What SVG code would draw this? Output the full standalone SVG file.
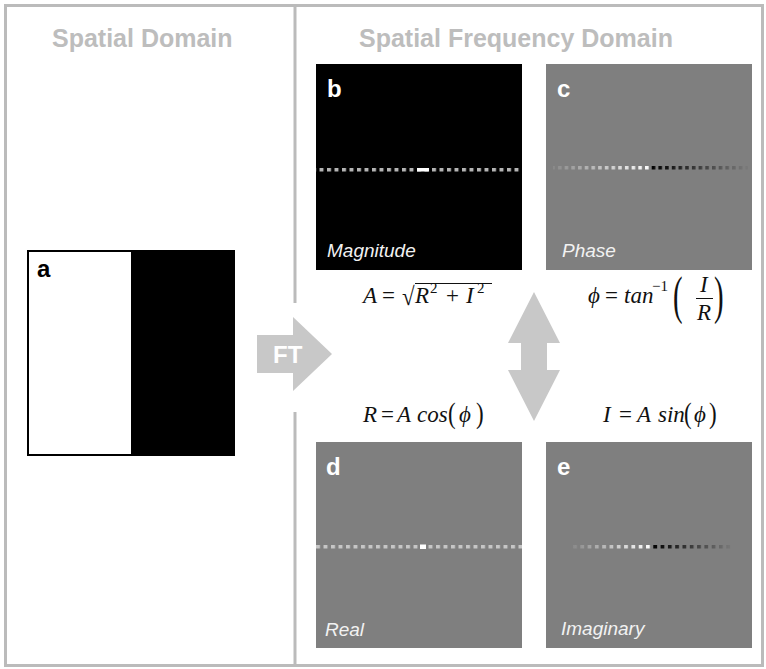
<svg xmlns="http://www.w3.org/2000/svg" width="766" height="669" viewBox="0 0 766 669">
  <style>
    .frame { fill: none; stroke: #bbbbbb; stroke-width: 3; }
    .head { font-family: "Liberation Sans", Arial, sans-serif; font-weight: bold; font-size: 25px; fill: #bdbdbd; }
    .tag { font-family: "Liberation Sans", Arial, sans-serif; font-weight: bold; font-size: 24px; fill: #ffffff; }
    .cap { font-family: "Liberation Sans", Arial, sans-serif; font-style: italic; font-size: 19px; fill: #f2f2f2; }
    .gray { fill: #7f7f7f; }
    .math { font-family: "Liberation Serif", "DejaVu Serif", serif; font-size: 23px; fill: #111111; }
    .it { font-style: italic; }
    .sup { font-size: 15px; }
    .bigarrow { fill: #c8c8c8; }
  </style>
  <defs>
    <!-- dot rows of the spectra -->
    <pattern id="patB" patternUnits="userSpaceOnUse" x="432" y="168" width="7.5" height="4">
      <rect width="4" height="3.5" fill="#b4b4b4"/>
    </pattern>
    <pattern id="patD" patternUnits="userSpaceOnUse" x="421" y="545" width="7.5" height="4">
      <rect width="4" height="3.5" fill="#c6c6c6"/>
    </pattern>
    <pattern id="patC" patternUnits="userSpaceOnUse" x="645" y="166" width="6.7" height="4">
      <rect width="3.6" height="3.5" fill="#ffffff"/>
    </pattern>
    <pattern id="patE" patternUnits="userSpaceOnUse" x="646" y="545" width="7.3" height="4">
      <rect width="3.8" height="3.5" fill="#ffffff"/>
    </pattern>
    <mask id="maskC"><rect x="553" y="166" width="195" height="4" fill="url(#patC)"/></mask>
    <mask id="maskE"><rect x="573" y="545" width="159" height="4" fill="url(#patE)"/></mask>
    <linearGradient id="gradC" gradientUnits="userSpaceOnUse" x1="553" y1="0" x2="748" y2="0">
      <stop offset="0" stop-color="#8a8a8a"/>
      <stop offset="0.5" stop-color="#ffffff"/>
      <stop offset="0.5" stop-color="#000000"/>
      <stop offset="1" stop-color="#7a7a7a"/>
    </linearGradient>
    <linearGradient id="gradE" gradientUnits="userSpaceOnUse" x1="573" y1="0" x2="732" y2="0">
      <stop offset="0" stop-color="#8a8a8a"/>
      <stop offset="0.494" stop-color="#ffffff"/>
      <stop offset="0.494" stop-color="#000000"/>
      <stop offset="1" stop-color="#7a7a7a"/>
    </linearGradient>
  </defs>

  <rect width="766" height="669" fill="#ffffff"/>

  <!-- outer frame and domain divider -->
  <g id="frame">
    <rect class="frame" x="5.5" y="5.5" width="757" height="660"/>
    <line class="frame" x1="295" y1="5" x2="295" y2="303"/>
    <line class="frame" x1="295" y1="412" x2="295" y2="666"/>
  </g>

  <g id="headings">
    <text class="head" x="52" y="47">Spatial Domain</text>
    <text class="head" x="359" y="47">Spatial Frequency Domain</text>
  </g>

  <!-- a: spatial image, half white / half black -->
  <g id="panel-a">
    <rect x="28" y="251" width="206" height="204" fill="#ffffff"/>
    <rect x="131" y="251" width="103" height="204" fill="#000000"/>
    <rect x="28" y="251" width="206" height="204" fill="none" stroke="#000000" stroke-width="2"/>
    <text class="tag" x="37" y="277" style="fill:#000000">a</text>
  </g>

  <!-- b: magnitude -->
  <g id="panel-b">
    <rect x="316" y="64" width="206" height="206" fill="#000000"/>
    <rect x="316" y="168" width="206" height="4" fill="url(#patB)"/>
    <rect x="417" y="168" width="12" height="3.5" fill="#ffffff"/>
    <text class="tag" x="327" y="97">b</text>
    <text class="cap" x="327" y="257">Magnitude</text>
  </g>

  <!-- c: phase -->
  <g id="panel-c">
    <rect class="gray" x="546" y="64" width="206" height="206"/>
    <rect x="553" y="166" width="195" height="4" fill="url(#gradC)" mask="url(#maskC)"/>
    <text class="tag" x="557" y="97">c</text>
    <text class="cap" x="562" y="257">Phase</text>
  </g>

  <!-- d: real part -->
  <g id="panel-d">
    <rect class="gray" x="316" y="442" width="206" height="206"/>
    <rect x="316" y="545" width="206" height="4" fill="url(#patD)"/>
    <rect x="420" y="544.5" width="6" height="4.5" fill="#ffffff"/>
    <text class="tag" x="326" y="475">d</text>
    <text class="cap" x="325" y="636">Real</text>
  </g>

  <!-- e: imaginary part -->
  <g id="panel-e">
    <rect class="gray" x="546" y="442" width="206" height="206"/>
    <rect x="573" y="545" width="159" height="4" fill="url(#gradE)" mask="url(#maskE)"/>
    <text class="tag" x="557" y="475">e</text>
    <text class="cap" x="561" y="635">Imaginary</text>
  </g>

  <!-- formulas relating the four spectra -->
  <g id="formulas" class="math">
    <!-- A = sqrt(R^2 + I^2) -->
    <text x="363" y="303" class="it">A</text>
    <text x="382" y="303">=</text>
    <text transform="translate(402,305) scale(1,1.12)">√</text>
    <line x1="415" y1="283.5" x2="492" y2="283.5" stroke="#111111" stroke-width="1.2"/>
    <text x="415" y="303" class="it">R</text>
    <text x="430" y="293" class="sup">2</text>
    <text x="446" y="303">+</text>
    <text x="466" y="303" class="it">I</text>
    <text x="477" y="293" class="sup">2</text>

    <!-- phi = tan^-1 (I/R) -->
    <text x="588" y="303" class="it">ϕ</text>
    <text x="605" y="303">=</text>
    <text x="624" y="303" class="it">tan</text>
    <text x="652" y="291" class="sup">−1</text>
    <text transform="translate(673,313) scale(0.9,1.67)" font-size="32">(</text>
    <text x="700" y="292" class="it">I</text>
    <line x1="696" y1="298.5" x2="713" y2="298.5" stroke="#111111" stroke-width="1"/>
    <text x="697" y="320" class="it">R</text>
    <text transform="translate(714,313) scale(0.9,1.67)" font-size="32">)</text>

    <!-- R = A cos(phi) -->
    <text x="363" y="422" class="it">R</text>
    <text x="381" y="422">=</text>
    <text x="397" y="422" class="it">A</text>
    <text x="417" y="422" class="it">cos</text>
    <text transform="translate(448,423) scale(1,1.25)">(</text>
    <text x="459" y="422" class="it">ϕ</text>
    <text transform="translate(476,423) scale(1,1.25)">)</text>

    <!-- I = A sin(phi) -->
    <text x="603" y="422" class="it">I</text>
    <text x="619" y="422">=</text>
    <text x="637" y="422" class="it">A</text>
    <text x="658" y="422" class="it">sin</text>
    <text transform="translate(684,423) scale(1,1.25)">(</text>
    <text x="694" y="422" class="it">ϕ</text>
    <text transform="translate(709,423) scale(1,1.25)">)</text>
  </g>

  <!-- connectors: Fourier transform arrow and the two-way conversion arrow -->
  <g id="connectors">
    <g id="ft-arrow">
      <polygon class="bigarrow" points="257,335 293,335 293,317 332,354 293,391 293,373 257,373"/>
      <text x="273" y="363" style="font-family:'Liberation Sans',Arial,sans-serif;font-weight:bold;font-size:24px;fill:#ffffff">FT</text>
    </g>
    <polygon id="polar-cartesian" class="bigarrow" points="534,292 560,343 547,343 547,370 560,370 534,421 508,370 521,370 521,343 508,343"/>
  </g>
</svg>
